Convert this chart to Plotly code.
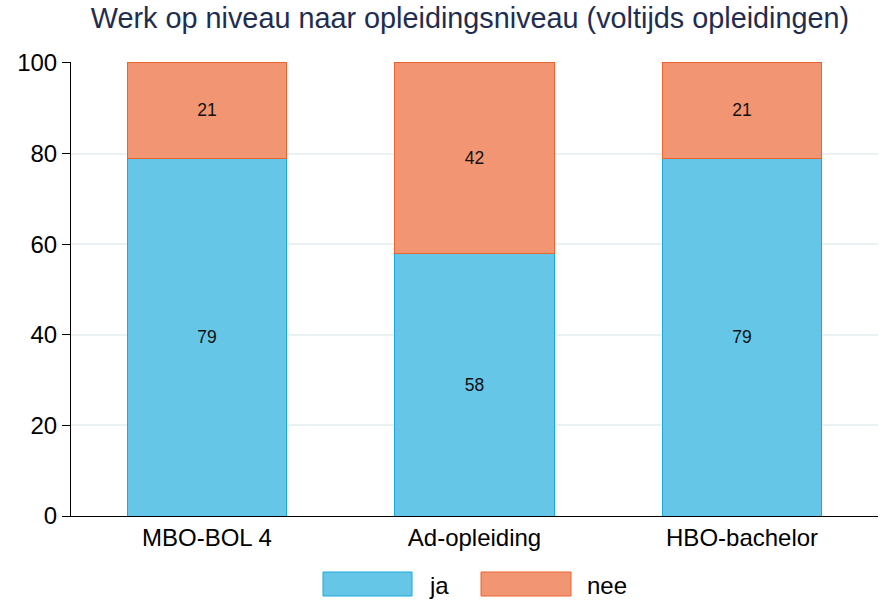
import plotly.graph_objects as go

categories = ["MBO-BOL 4", "Ad-opleiding", "HBO-bachelor"]
ja = [79, 58, 79]
nee = [21, 42, 21]
series_names = ["ja", "nee"]
y_ticks = [0, 20, 40, 60, 80, 100]

FONT = "Liberation Sans, Arial, sans-serif"
ja_fill, ja_line = "#65c6e8", "#1aa9de"
nee_fill, nee_line = "#f29572", "#ea6430"

fig = go.Figure()
fig.add_trace(go.Bar(x=categories, y=ja, name=series_names[0], width=0.595,
                     marker=dict(color=ja_fill, line=dict(color=ja_line, width=1)),
                     text=[str(v) for v in ja], textposition="inside",
                     insidetextanchor="middle", textangle=0,
                     textfont=dict(size=17.5, color="#111111", family=FONT)))
fig.add_trace(go.Bar(x=categories, y=nee, name=series_names[1], width=0.595,
                     marker=dict(color=nee_fill, line=dict(color=nee_line, width=1)),
                     text=[str(v) for v in nee], textposition="inside",
                     insidetextanchor="middle", textangle=0,
                     textfont=dict(size=17.5, color="#111111", family=FONT)))

fig.update_layout(
    barmode="stack",
    width=883, height=600,
    margin=dict(l=71, r=5, t=62, b=84, autoexpand=False),
    paper_bgcolor="white", plot_bgcolor="white",
    showlegend=False,
    title=dict(text="Werk op niveau naar opleidingsniveau (voltijds opleidingen)",
               xref="container", x=470 / 883, xanchor="center",
               y=1 - 18 / 600, yanchor="middle",
               font=dict(size=28.8, color="#1f2d50", family=FONT)),
    font=dict(family=FONT, size=24, color="black"),
)
fig.update_xaxes(range=[-0.508, 2.508], showline=True, linecolor="black", linewidth=1,
                 ticks="", showgrid=False, tickfont=dict(size=24, color="black"),
                 fixedrange=True)
fig.update_yaxes(range=[0, 100.2], tickvals=y_ticks, showline=True, linecolor="black",
                 linewidth=1, ticks="outside", ticklen=8, tickcolor="black",
                 showgrid=True, gridcolor="#e9f1f3", gridwidth=2, zeroline=False,
                 tickfont=dict(size=24, color="black"))

# legend drawn manually with large swatches
legend_items = [(series_names[0], ja_fill, ja_line, 323, 412, 427),
                (series_names[1], nee_fill, nee_line, 481, 571, 585)]
for name, fill, line, x0, x1, tx in legend_items:
    fig.add_shape(type="rect", xref="paper", yref="paper",
                  x0=(x0 - 71) / 807, x1=(x1 - 71) / 807,
                  y0=-(596 - 516) / 454, y1=-(572 - 516) / 454,
                  fillcolor=fill, line=dict(color=line, width=1))
    fig.add_annotation(text=name, xref="paper", yref="paper",
                       x=(tx - 71) / 807, y=-(585 - 516) / 454,
                       xanchor="left", yanchor="middle", showarrow=False,
                       font=dict(size=24, color="black", family=FONT))

fig.write_html("out.html", config={"displayModeBar": False},
               post_script="document.body.style.margin='0';document.body.style.overflow='hidden';")
